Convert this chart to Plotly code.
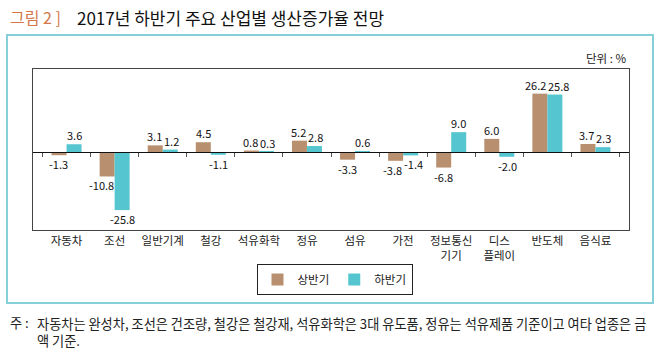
import plotly.graph_objects as go

categories = ["자동차", "조선", "일반기계", "철강", "석유화학", "정유", "섬유", "가전",
              "정보통신<br>기기", "디스<br>플레이", "반도체", "음식료"]
first_half = [-1.3, -10.8, 3.1, 4.5, 0.8, 5.2, -3.3, -3.8, -6.8, 6.0, 26.2, 3.7]
second_half = [3.6, -25.8, 1.2, -1.1, 0.3, 2.8, 0.6, -1.4, 9.0, -2.0, 25.8, 2.3]
series_names = ["상반기", "하반기"]
colors = ["#B8906F", "#55C6D0"]

FONT = "Noto Sans CJK KR"
W, H = 660, 350
L, R, T, B = 33, 629, 69, 230  # plot area pixel box
YMIN, YMAX = -34.7, 37.2
BARGAP = 0.376


def px(x):
    return (x - L) / (R - L)


def py(y):
    return (B - y) / (B - T)


fig = go.Figure()
for name, vals, col in zip(series_names, [first_half, second_half], colors):
    fig.add_trace(go.Bar(x=categories, y=vals, name=name,
                         marker=dict(color=col, line=dict(width=0))))

# invisible helper trace so the zero-line axis (with boundary ticks) is drawn
fig.add_trace(go.Scatter(
    x=categories, y=first_half, xaxis="x2", mode="markers",
    marker=dict(opacity=0), hoverinfo="skip", showlegend=False,
))

zero_pos = (0 - YMIN) / (YMAX - YMIN)

fig.update_layout(
    width=W, height=H,
    margin=dict(l=L, r=W - R, t=T, b=H - B, pad=0),
    paper_bgcolor="white", plot_bgcolor="white",
    font=dict(family=FONT, size=11.5, color="#222"),
    barmode="group", bargap=BARGAP, bargroupgap=0,
    showlegend=True,
    legend=dict(
        orientation="h", x=px(334.5), xanchor="center", y=py(264), yanchor="top",
        bordercolor="#222", borderwidth=1, bgcolor="white",
        font=dict(size=11.5, family=FONT, color="#222"),
        itemwidth=30, tracegroupgap=0,
    ),
    xaxis=dict(
        type="category", showline=True, mirror=True, linecolor="#444", linewidth=1,
        ticks="", showgrid=False, tickfont=dict(size=11.5, family=FONT, color="#222"),
    ),
    xaxis2=dict(
        overlaying="x", matches="x", anchor="free", position=zero_pos,
        showline=True, linecolor="#111", linewidth=1,
        ticks="outside", ticklen=4, tickcolor="#555", tickson="boundaries",
        showticklabels=False, showgrid=False, type="category",
    ),
    yaxis=dict(
        range=[YMIN, YMAX], showticklabels=False, showgrid=False, zeroline=False,
        showline=True, mirror=True, linecolor="#444", linewidth=1, ticks="",
    ),
)

# value labels (placed at each bar's end, nudged apart where neighbours collide)
px_per_unit = (B - T) / (YMAX - YMIN)
half_bar = (R - L) / len(categories) * (1 - BARGAP) / 4
LABEL_H = 14
for i, cat in enumerate(categories):
    a, b = first_half[i], second_half[i]
    same_sign = (a >= 0) == (b >= 0)
    for k, (v, other) in enumerate([(a, b), (b, a)]):
        side = -1 if k == 0 else 1
        anchored = False
        if same_sign:
            if abs(other) > abs(v):
                anchored = True
            elif abs(abs(v) - abs(other)) * px_per_unit < LABEL_H:
                anchored = True
        if anchored:
            xanchor = "right" if k == 0 else "left"
            xshift = 0
        else:
            xanchor = "center"
            xshift = side * half_bar
        fig.add_annotation(
            x=cat, y=v, xref="x", yref="y", text=f"{v:.1f}", showarrow=False,
            xanchor=xanchor, xshift=xshift,
            yanchor="bottom" if v >= 0 else "top", borderpad=0,
            font=dict(size=11, color="#111", family=FONT),
        )

# outer teal frame
fig.add_shape(type="rect", xref="paper", yref="paper",
              x0=px(7), x1=px(653), y0=py(303), y1=py(35),
              line=dict(color="#86CFD8", width=2), layer="below")

anns = [
    dict(text="그림 2 ]", x=px(8), y=py(17), xanchor="left", yanchor="middle",
         font=dict(size=16, color="#D2784A", family=FONT)),
    dict(text="2017년 하반기 주요 산업별 생산증가율 전망", x=px(75), y=py(17),
         xanchor="left", yanchor="middle", font=dict(size=17, color="#111", family=FONT)),
    dict(text="단위 : %", x=px(629), y=py(58), xanchor="right", yanchor="middle",
         font=dict(size=11.5, color="#222", family=FONT)),
    dict(text="주 :", x=px(8), y=py(322), xanchor="left", yanchor="middle",
         font=dict(size=13.2, color="#222", family=FONT)),
    dict(text="자동차는 완성차, 조선은 건조량, 철강은 철강재, 석유화학은 3대 유도품, "
              "정유는 석유제품 기준이고 여타 업종은 금<br>액 기준.",
         x=px(35), y=py(312), xanchor="left", yanchor="top", align="left",
         font=dict(size=13.2, color="#222", family=FONT)),
]
for a in anns:
    a.update(xref="paper", yref="paper", showarrow=False)
    fig.add_annotation(**a)

fig.write_html("out.html")
